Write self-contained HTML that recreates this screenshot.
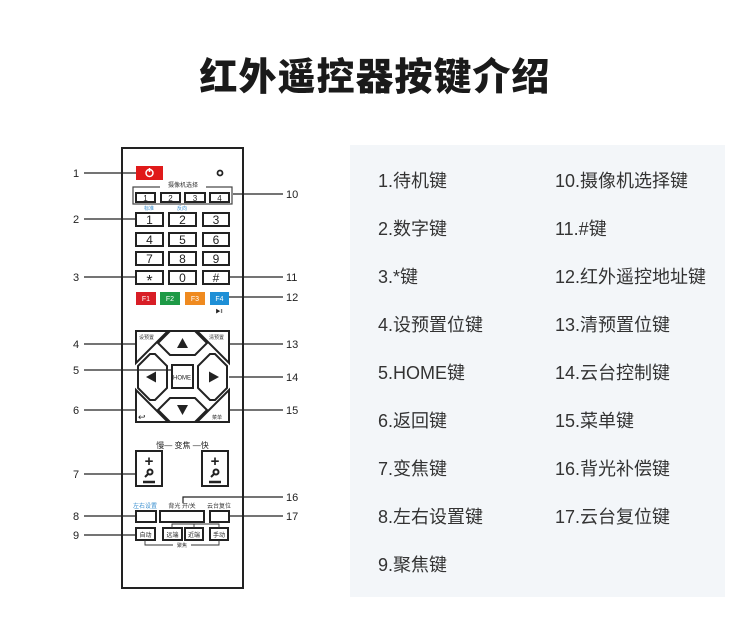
<!DOCTYPE html>
<html><head><meta charset="utf-8"><style>
html,body{margin:0;padding:0;background:#fff;width:750px;height:623px;overflow:hidden;font-family:"Liberation Sans","Noto Sans CJK SC",sans-serif;}
h1{position:absolute;left:0;width:750px;top:46px;margin:0;text-align:center;font-size:38px;font-weight:900;color:#1a1a1a;letter-spacing:1px;}
.panel{position:absolute;left:350px;top:145px;width:375px;height:452px;background:#f3f6f9;}
.t{position:absolute;font-size:18px;color:#333;line-height:22px;white-space:nowrap;}
svg{position:absolute;left:0;top:0;}
</style></head><body>
<h1>红外遥控器按键介绍</h1>
<div class="panel"></div>
<div class="t" style="left:378px;top:170px">1.待机键</div>
<div class="t" style="left:378px;top:218px">2.数字键</div>
<div class="t" style="left:378px;top:266px">3.*键</div>
<div class="t" style="left:378px;top:314px">4.设预置位键</div>
<div class="t" style="left:378px;top:362px">5.HOME键</div>
<div class="t" style="left:378px;top:410px">6.返回键</div>
<div class="t" style="left:378px;top:458px">7.变焦键</div>
<div class="t" style="left:378px;top:506px">8.左右设置键</div>
<div class="t" style="left:378px;top:554px">9.聚焦键</div>
<div class="t" style="left:555px;top:170px">10.摄像机选择键</div>
<div class="t" style="left:555px;top:218px">11.#键</div>
<div class="t" style="left:555px;top:266px">12.红外遥控地址键</div>
<div class="t" style="left:555px;top:314px">13.清预置位键</div>
<div class="t" style="left:555px;top:362px">14.云台控制键</div>
<div class="t" style="left:555px;top:410px">15.菜单键</div>
<div class="t" style="left:555px;top:458px">16.背光补偿键</div>
<div class="t" style="left:555px;top:506px">17.云台复位键</div>

<svg width="750" height="623" viewBox="0 0 750 623" font-family="Liberation Sans, Noto Sans CJK SC, sans-serif">
<g fill="none" stroke="#222" stroke-width="2">
<rect x="122" y="148" width="121" height="440"/>
</g>
<rect x="136" y="166" width="27" height="14" fill="#e01a1a"/>
<circle cx="149.5" cy="173" r="3.5" fill="none" stroke="#fff" stroke-width="1.5"/>
<line x1="149.5" y1="168" x2="149.5" y2="172" stroke="#fff" stroke-width="1.5"/>
<circle cx="220" cy="173" r="2.5" fill="none" stroke="#222" stroke-width="1.8"/>
<rect x="133" y="187" width="99" height="17" fill="none" stroke="#444" stroke-width="1.2"/>
<rect x="160" y="181" width="46" height="7" fill="#fff"/>
<text x="183" y="187" font-size="6" text-anchor="middle" fill="#333">摄像机选择</text>
<g fill="none" stroke="#222" stroke-width="2">
<rect x="136" y="193" width="19" height="9"/><rect x="161" y="193" width="19" height="9"/><rect x="185" y="193" width="20" height="9"/><rect x="210" y="193" width="19" height="9"/>
</g>
<g font-size="8" text-anchor="middle" fill="#222">
<text x="145.5" y="201">1</text><text x="170.5" y="201">2</text><text x="195" y="201">3</text><text x="219.5" y="201">4</text>
</g>
<text x="149" y="210" font-size="5" fill="#3a8fd0" text-anchor="middle">标准</text>
<text x="182" y="210" font-size="5" fill="#3a8fd0" text-anchor="middle">反向</text>
<g fill="none" stroke="#222" stroke-width="2">
<rect x="136" y="213" width="27" height="13"/><rect x="169" y="213" width="27" height="13"/><rect x="203" y="213" width="26" height="13"/>
<rect x="136" y="233" width="27" height="13"/><rect x="169" y="233" width="27" height="13"/><rect x="203" y="233" width="26" height="13"/>
<rect x="136" y="252" width="27" height="13"/><rect x="169" y="252" width="27" height="13"/><rect x="203" y="252" width="26" height="13"/>
<rect x="136" y="271" width="27" height="13"/><rect x="169" y="271" width="27" height="13"/><rect x="203" y="271" width="26" height="13"/>
</g>
<g font-size="12" text-anchor="middle" fill="#222">
<text x="149.5" y="224">1</text><text x="182.5" y="224">2</text><text x="216" y="224">3</text>
<text x="149.5" y="244">4</text><text x="182.5" y="244">5</text><text x="216" y="244">6</text>
<text x="149.5" y="263">7</text><text x="182.5" y="263">8</text><text x="216" y="263">9</text>
<text x="149.5" y="286" font-size="16">*</text><text x="182.5" y="282">0</text><text x="216" y="282">#</text>
</g>
<rect x="136" y="292" width="20" height="13" fill="#d81e26"/>
<rect x="160" y="292" width="20" height="13" fill="#1e9a46"/>
<rect x="185" y="292" width="20" height="13" fill="#ef8a1f"/>
<rect x="210" y="292" width="19" height="13" fill="#1e8fd6"/>
<g font-size="7" fill="#fff" text-anchor="middle">
<text x="146" y="301">F1</text><text x="170" y="301">F2</text><text x="195" y="301">F3</text><text x="219.5" y="301">F4</text>
</g>
<text x="219" y="313" font-size="5" fill="#222" text-anchor="middle">▶ǁ</text>
<g fill="none" stroke="#222" stroke-width="2" stroke-linejoin="miter">
<polygon points="136,331 168,331 136,363"/>
<polygon points="229,331 197,331 229,363"/>
<polygon points="136,422 136,390 168,422"/>
<polygon points="229,422 229,390 197,422"/>
<polygon points="170,331 195,331 207,343 195,355 170,355 158,343"/>
<polygon points="170,422 195,422 207,410 195,398 170,398 158,410"/>
<polygon points="138,366 150,354 155,354 167,366 167,388 155,400 150,400 138,388"/>
<polygon points="227,366 215,354 210,354 198,366 198,388 210,400 215,400 227,388"/>
<rect x="172" y="365" width="21" height="23"/>
</g>
<text x="173" y="379.5" font-size="6" fill="#222">HOME</text>
<g fill="#222">
<polygon points="182.5,338 177,348 188,348"/>
<polygon points="182.5,415 177,405 188,405"/>
<polygon points="146,377 156,371.5 156,382.5"/>
<polygon points="219,377 209,371.5 209,382.5"/>
</g>
<g font-size="5" fill="#333">
<text x="139" y="339">设预置</text><text x="209" y="339">清预置</text><text x="212" y="419">菜单</text>
</g>
<text x="138" y="420" font-size="9" fill="#222">↩</text>
<text x="182.5" y="448" font-size="8" fill="#222" text-anchor="middle">慢— 变焦 —快</text>
<g fill="none" stroke="#222" stroke-width="2">
<rect x="136" y="451" width="26" height="35"/><rect x="202" y="451" width="26" height="35"/>
</g>
<g fill="#222" font-size="15" font-weight="bold" text-anchor="middle">
<text x="149" y="466">+</text><text x="215" y="466">+</text>
</g>
<g stroke="#222" stroke-width="2" fill="none">
<circle cx="150" cy="472" r="2.5"/><line x1="148" y1="474" x2="145" y2="477"/>
<circle cx="216" cy="472" r="2.5"/><line x1="214" y1="474" x2="211" y2="477"/>
<line x1="143" y1="482" x2="155" y2="482" stroke-width="2.5"/><line x1="209" y1="482" x2="221" y2="482" stroke-width="2.5"/>
</g>
<text x="145" y="508" font-size="6" fill="#3a8fd0" text-anchor="middle">左右设置</text>
<text x="182" y="508" font-size="6" fill="#333" text-anchor="middle">背光 开/关</text>
<text x="219" y="508" font-size="6" fill="#333" text-anchor="middle">云台复位</text>
<g fill="none" stroke="#222" stroke-width="2">
<rect x="136" y="511" width="20" height="11"/><rect x="160" y="511" width="44" height="11"/><rect x="210" y="511" width="19" height="11"/>
<rect x="136" y="528" width="19" height="12"/><rect x="163" y="528" width="19" height="12"/><rect x="185" y="528" width="18" height="12"/><rect x="210" y="528" width="18" height="12"/>
</g>
<g fill="none" stroke="#333" stroke-width="0.9">
<polyline points="172,528 172,524 219,524 219,528"/>
<line x1="194" y1="524" x2="194" y2="528"/>
<polyline points="145,540 145,545 219,545 219,540"/>
</g>
<rect x="173" y="542" width="18" height="6" fill="#fff"/>
<text x="182" y="547" font-size="5" fill="#333" text-anchor="middle">聚焦</text>
<g font-size="6" fill="#222" text-anchor="middle">
<text x="145.5" y="537">自动</text><text x="172.5" y="537">远端</text><text x="194" y="537">近端</text><text x="219" y="537">手动</text>
</g>
<g stroke="#222" stroke-width="1.2">
<line x1="84" y1="173" x2="136" y2="173"/>
<line x1="84" y1="219" x2="136" y2="219"/>
<line x1="84" y1="277" x2="136" y2="277"/>
<line x1="84" y1="344" x2="136" y2="344"/>
<line x1="84" y1="370" x2="172" y2="370"/>
<line x1="84" y1="410" x2="136" y2="410"/>
<line x1="84" y1="474" x2="136" y2="474"/>
<line x1="84" y1="516" x2="136" y2="516"/>
<line x1="84" y1="535" x2="136" y2="535"/>
<line x1="233" y1="194" x2="283" y2="194"/>
<line x1="229" y1="277" x2="283" y2="277"/>
<line x1="229" y1="297" x2="283" y2="297"/>
<line x1="229" y1="344" x2="283" y2="344"/>
<line x1="229" y1="377" x2="283" y2="377"/>
<line x1="229" y1="410" x2="283" y2="410"/>
<polyline points="183,503 183,497 283,497" fill="none"/>
<line x1="229" y1="516" x2="283" y2="516"/>
</g>
<g font-size="11" fill="#222">
<text x="73" y="177">1</text><text x="73" y="223">2</text><text x="73" y="281">3</text><text x="73" y="348">4</text>
<text x="73" y="374">5</text><text x="73" y="414">6</text><text x="73" y="478">7</text><text x="73" y="520">8</text><text x="73" y="539">9</text>
<text x="286" y="198">10</text><text x="286" y="281">11</text><text x="286" y="301">12</text><text x="286" y="348">13</text>
<text x="286" y="381">14</text><text x="286" y="414">15</text><text x="286" y="501">16</text><text x="286" y="520">17</text>
</g>
</svg>
</body></html>
